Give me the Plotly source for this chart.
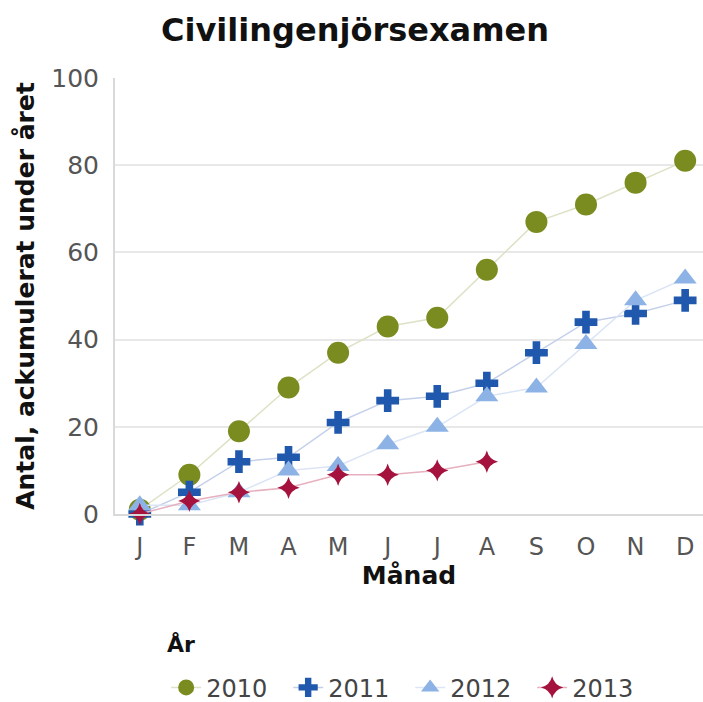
import plotly.graph_objects as go

months = ["J", "F", "M", "A", "M", "J", "J", "A", "S", "O", "N", "D"]
y2010 = [1, 9, 19, 29, 37, 43, 45, 56, 67, 71, 76, 81]
y2011 = [0, 5, 12, 13, 21, 26, 27, 30, 37, 44, 46, 49]
y2012 = [2, 2, 5, 10, 11, 16, 20, 27, 29, 39, 49, 54]
y2013 = [0, 3, 5, 6, 9, 9, 10, 12]
years = ["2010", "2011", "2012", "2013"]

FONT = "DejaVu Sans"
xs = list(range(len(months)))

series = [
    (years[0], y2010, "circle", 22, "#7a8c1f", "#dde2c6"),
    (years[1], y2011, "cross", 19, "#1f58ad", "#c4d0ea"),
    (years[2], y2012, "triangle-up", 20, "#8db3e6", "#dbe5f5"),
    (years[3], y2013, "star-diamond", 16, "#a5123e", "#e6b0be"),
]

fig = go.Figure()
for name, vals, sym, size, col, lcol in series:
    fig.add_trace(go.Scatter(
        x=xs[:len(vals)], y=vals, name=name, mode="lines+markers",
        line=dict(color=lcol, width=1.5),
        marker=dict(symbol=sym, size=size, color=col, line=dict(width=0)),
        cliponaxis=False,
    ))

fig.update_layout(
    width=703, height=702,
    margin=dict(l=115, r=0, t=78, b=188, autoexpand=False),
    paper_bgcolor="white", plot_bgcolor="white",
    font=dict(family=FONT, color="#555555", size=24),
    title=dict(text="<b>Civilingenjörsexamen</b>", x=0.505, xanchor="center",
               y=0.957, yanchor="middle",
               font=dict(family=FONT, size=32, color="#111111")),
    xaxis=dict(
        range=[-0.5, 11.36], tickmode="array", tickvals=xs, ticktext=months,
        showgrid=False, showline=True, linecolor="#d9d9d9", linewidth=2,
        ticks="", zeroline=False, automargin=False, ticklabelstandoff=10,
        tickfont=dict(size=24, color="#555555"),
        title=dict(text="<b>Månad</b>", standoff=4,
                   font=dict(family=FONT, size=25, color="#111111")),
    ),
    yaxis=dict(
        range=[0, 100], tickvals=[0, 20, 40, 60, 80, 100],
        showgrid=True, gridcolor="#e8e8e8", gridwidth=2,
        showline=True, linecolor="#d9d9d9", linewidth=2,
        zeroline=False, ticks="", ticklabelstandoff=9, automargin=False,
        tickfont=dict(size=25, color="#555555"),
        title=dict(text="<b>Antal, ackumulerat under året</b>", standoff=10,
                   font=dict(family=FONT, size=25, color="#111111")),
    ),
    legend=dict(
        orientation="h", x=0.087, xanchor="left", y=-0.347, yanchor="top",
        font=dict(family=FONT, size=24, color="#444444"),
        itemwidth=30, tracegroupgap=0,
        entrywidth=77, entrywidthmode="pixels",
    ),
    showlegend=True,
    annotations=[dict(
        text="<b>År</b>", xref="paper", yref="paper",
        x=0.085, xanchor="left", y=-0.3, yanchor="middle", showarrow=False,
        font=dict(family=FONT, size=22, color="#111111"),
    )],
)

fig.write_html("out.html", config={"displayModeBar": False},
               post_script="document.body.style.margin='0px';")
